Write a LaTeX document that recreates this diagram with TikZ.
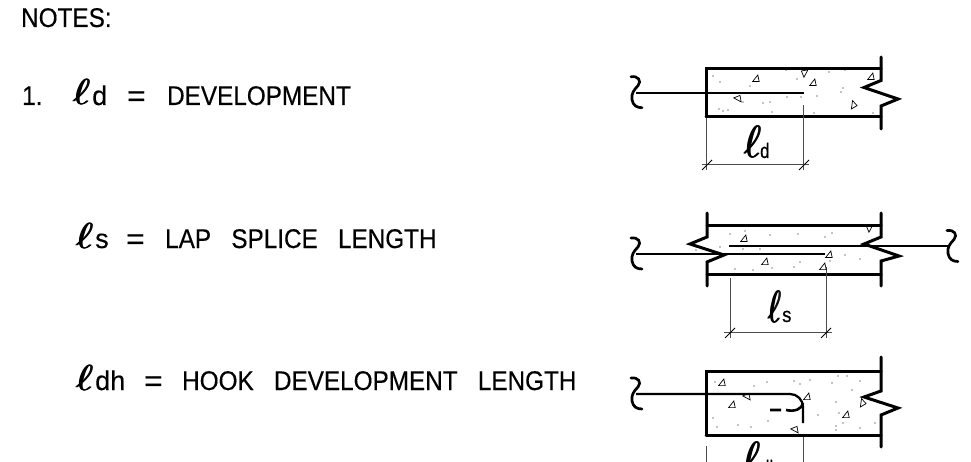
\documentclass[tikz,border=0pt]{standalone}
\usepackage{graphicx}
\usepackage{fontspec}
\setmainfont{Liberation Sans}[FakeBold=0.35]
\newcommand\oneell[2]{\scalebox{#1}[#2]{$\ell$}}
\newcommand\fatell[2]{\rlap{\oneell{#1}{#2}}\kern.5pt\rlap{\oneell{#1}{#2}}\kern.5pt\rlap{\oneell{#1}{#2}}\kern.5pt\oneell{#1}{#2}}
\newcommand\tri[3]{\draw[triline,rotate around={#3:(#1,#2)}] (#1-3.4,#2+2.6) -- (#1+3.2,#2+2.6) -- (#1+1.8,#2-4) -- cycle;}
\tikzset{
  beam/.style={line width=3pt,line cap=round,line join=miter},
  rebar/.style={line width=2.3pt,line cap=butt},
  dimline/.style={line width=.7pt,draw=black!70},
  triline/.style={line width=.7pt},
  lbl/.style={anchor=base west,inner sep=0pt,font=\fontsize{27}{30}\selectfont,xscale=.9,transform shape},
  eqmark/.style={anchor=base west,inner sep=0pt,font=\fontsize{30}{30}\selectfont,xscale=1.05,transform shape},
  ellmark/.style={anchor=base west,inner sep=0pt},
  ellsub/.style={anchor=base west,inner sep=0pt,font=\fontsize{27}{30}\selectfont},
  ticksub/.style={anchor=base west,inner sep=0pt,font=\fontsize{21}{24}\selectfont,xscale=.8,transform shape},
}
\newcommand\squig[2]{\draw[line width=2.7pt,line cap=round] (#1-5,#2-16) .. controls (#1+2,#2-17) and (#1+6,#2-12) .. (#1+2,#2-7) .. controls (#1-2,#2-3) and (#1-5,#2+1) .. (#1-4,#2+7) .. controls (#1-3,#2+13) and (#1+1,#2+15) .. (#1+6,#2+15);}
\begin{document}
\begin{tikzpicture}[x=1pt,y=-1pt]
\useasboundingbox (0,0) rectangle (971,462);
\clip (0,0) rectangle (971,462);
% text
\node[lbl] (notes) at (21,27) {NOTES:};
\node[lbl] (one) at (22,105) {1.};
\node[ellmark] (ld) at (72,105) {\fatell{4.1}{3.6}};
\node[ellsub] (ldd) at (92,105) {d};
\node[eqmark] (eq1) at (127,106) {=};
\node[lbl] (dev) at (167,105) {DEVELOPMENT};
\node[ellmark] (ls) at (75,248) {\fatell{4.1}{3.6}};
\node[ellsub] (lss) at (95,248) {s};
\node[eqmark] (eq2) at (126,249) {=};
\node[lbl] (lap) at (165,248) {LAP\ \ \ SPLICE\ \ \ LENGTH};
\node[ellmark] (ldh) at (75,390) {\fatell{4.1}{3.6}};
\node[ellsub] (ldhs) at (95,390) {dh};
\node[eqmark] (eq3) at (144,391) {=};
\node[lbl] (hook) at (182,390) {HOOK\ \ \ DEVELOPMENT\ \ \ LENGTH};
% diagram 1
\draw[beam] (706,117) -- (706,68.5) -- (881,68.5);
\draw[beam] (706,117) -- (881,117);
\draw[beam] (881,57) -- (881,80.5) -- (864,87.5) -- (898,99) -- (881,106) -- (881,129);
\draw[rebar] (636,92.7) -- (804,92.7);
\squig{636}{92.7}
\draw[dimline] (706.5,118) -- (706.5,170) (803,105) -- (803,170) (702,164) -- (809,164);
\draw[line width=.9pt] (702,170) -- (712,160) (799,170) -- (809,160);
\node[ellmark] (ld2) at (743,158) {\fatell{4.1}{4.5}};
\node[ticksub] (ld2d) at (760,158) {d};
\tri{756}{79}{0}\tri{805}{73}{190}\tri{813}{83}{0}\tri{738}{99}{100}\tri{871}{77}{0}\tri{853}{105}{30}
% diagram 2
\draw[beam] (707,226) -- (881,226) (707,274) -- (881,274);
\draw[beam] (707,213) -- (707,237) -- (690,244) -- (724,255) -- (707,262) -- (707,286);
\draw[beam] (881,213) -- (881,237) -- (864,244) -- (899,256) -- (881,261) -- (881,286);
\draw[rebar] (729,245.7) -- (950,245.7) (636,254) -- (825,254);
\squig{636}{254}
\squig{952}{246.5}
\draw[dimline] (730,278) -- (730,338) (826,267) -- (826,338) (724,332) -- (832,332);
\draw[line width=.9pt] (725,338) -- (735,328) (821,338) -- (831,328);
\node[ellmark] (ls2) at (767,322) {\fatell{3.1}{4.5}};
\node[ticksub,xscale=1.1] (ls2s) at (782,322) {s};
\tri{744}{239}{0}\tri{829}{255}{0}\tri{765}{262}{0}\tri{823}{267}{0}\tri{870}{228}{190}
% diagram 3
\draw[beam] (706,435) -- (706,371) -- (881,371);
\draw[beam] (706,435) -- (881,435);
\draw[beam] (881,357) -- (881,391) -- (864,397) -- (898,408) -- (881,415) -- (881,447);
\draw[rebar] (636,394) -- (790,394) arc[start angle=-90,end angle=0,radius=13] -- (803,423);
\draw[line width=2.6pt] (770,410) -- (781,410) (786,410) .. controls (795,412) and (802,409) .. (803,403);
\squig{636}{394}
\draw[dimline] (706.5,446) -- (706.5,470) (803,437) -- (803,470);
\node[ellmark] (ldh2) at (742,473) {\fatell{4.1}{4.5}};
\node[ticksub] (ldh2d) at (760,475) {dh};
\tri{722}{383}{0}\tri{747}{397}{100}\tri{732}{405}{0}\tri{807}{397}{0}\tri{862}{403}{30}\tri{846}{415}{0}\tri{795}{430}{100}
% aggregate specks
\foreach \px/\py in {713/76,720/82,750/86,786/70,797/79,817/96,843/88,841/92,787/97,801/97,743/102,763/103,770/102,772/112,719/109,723/111,728/110,814/113,873/113,829/72,845/70,760/68,
 730/234,770/235,798/234,825/237,832/233,745/231,696/250,720/247,743/249,760/249,735/269,753/270,772/268,794/267,800/262,830/261,845/255,860/259,
 715/382,754/386,767/382,794/381,800/384,810/380,838/376,847/376,860/381,832/383,852/390,836/402,818/415,839/413,843/423,875/423,860/428,713/418,717/427,738/425,751/427,768/421,836/430,836/426} {
  \fill (\px,\py) circle[radius=.6];
}
\end{tikzpicture}
\end{document}
